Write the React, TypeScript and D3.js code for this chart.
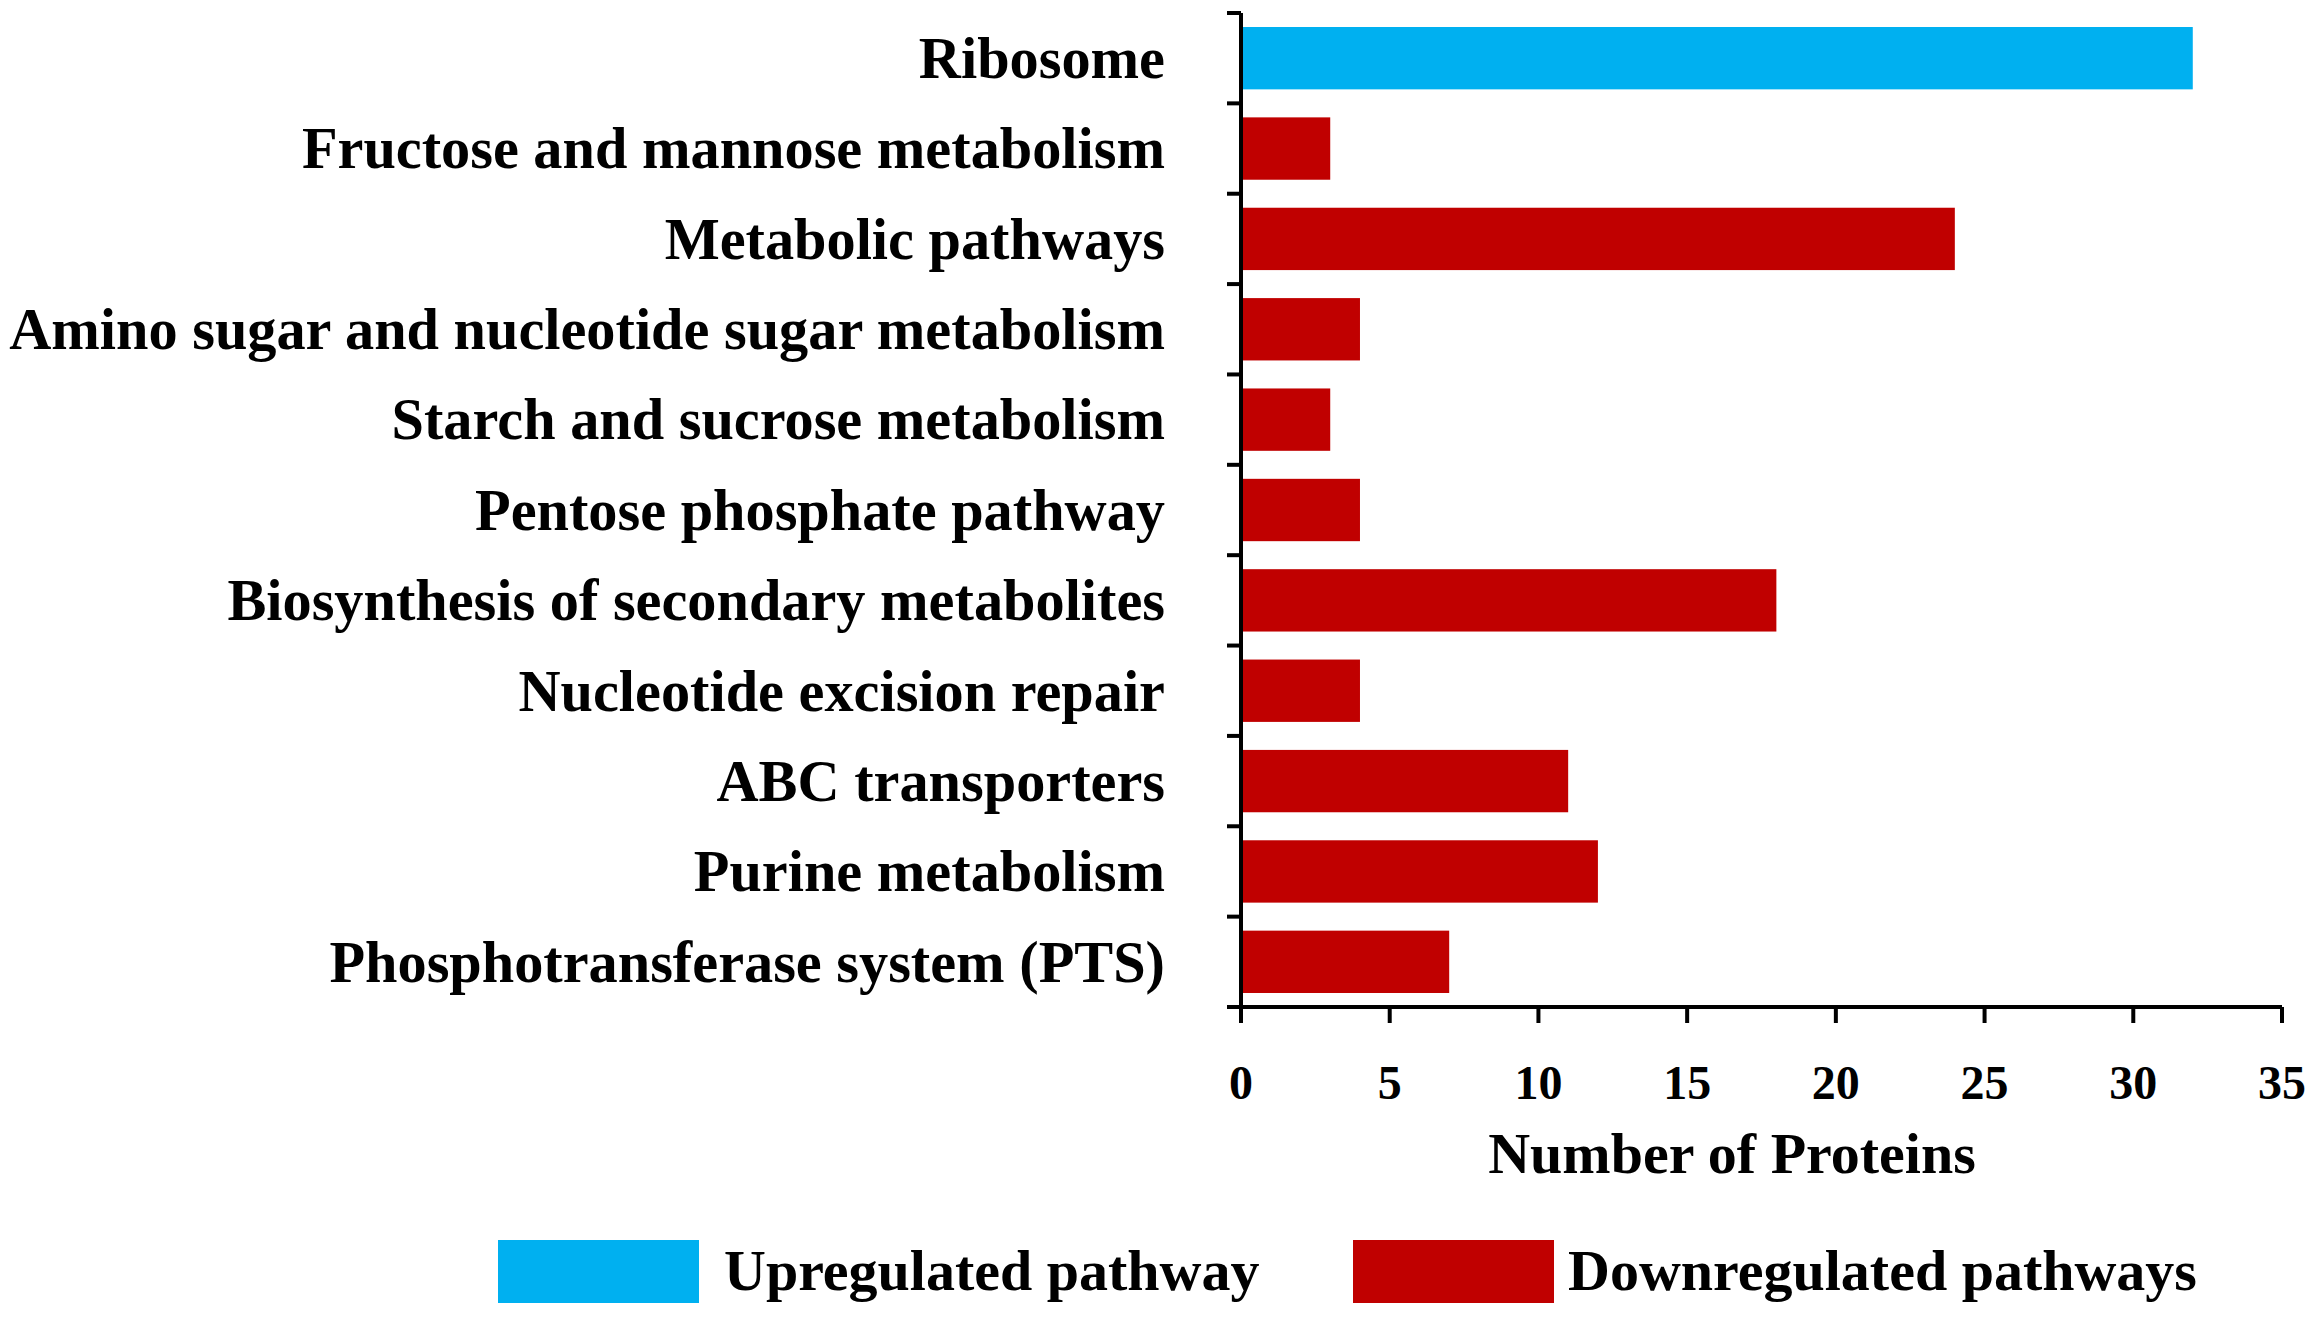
import React, { useEffect } from "react";
import * as d3 from "d3";

// KEGG pathways, top to bottom as shown
const pathways = [
  "Ribosome",
  "Fructose and mannose metabolism",
  "Metabolic pathways",
  "Amino sugar and nucleotide sugar metabolism",
  "Starch and sucrose metabolism",
  "Pentose phosphate pathway",
  "Biosynthesis of secondary metabolites",
  "Nucleotide excision repair",
  "ABC transporters",
  "Purine metabolism",
  "Phosphotransferase system (PTS)",
];

// number of proteins per pathway
const proteinCounts = [32, 3, 24, 4, 3, 4, 18, 4, 11, 12, 7];

// regulation group per pathway
const regulation = ["up", "down", "down", "down", "down", "down", "down", "down", "down", "down", "down"];

const groupKeys = ["up", "down"];
const groupLabels = ["Upregulated pathway", "Downregulated pathways"];

const xTicks = [0, 5, 10, 15, 20, 25, 30, 35];

const W = 2320;
const H = 1320;
const FONT = "'Liberation Serif', 'Times New Roman', Times, serif";

export default function App() {
  useEffect(() => {
    document.body.style.margin = "0";
  }, []);

  const x = d3.scaleLinear().domain([0, 35]).range([1241, 2282]);
  const y = d3.scaleBand<string>().domain(pathways).range([13, 1007]).paddingInner(0.31).paddingOuter(0.155);
  const color = d3.scaleOrdinal<string, string>().domain(groupKeys).range(["#00B0F0", "#C00000"]);

  const axisY = y.range()[1];
  const step = y.step();
  const boundaries = d3.range(pathways.length + 1).map((i) => y.range()[0] + i * step);

  // legend layout
  const legendBoxX = [498, 1353];
  const legendTextX = [724, 1568];

  return (
    <svg width={W} height={H} style={{ display: "block", background: "#fff" }} fontFamily={FONT} fontWeight="bold">
      {/* bars */}
      {pathways.map((p, i) => (
        <rect
          key={p}
          x={x(0)}
          y={y(p)}
          width={x(proteinCounts[i]) - x(0)}
          height={y.bandwidth()}
          fill={color(regulation[i])}
        />
      ))}

      {/* y axis */}
      <line x1={x(0)} x2={x(0)} y1={y.range()[0]} y2={axisY} stroke="#000" strokeWidth={4} />
      {boundaries.map((b, i) => (
        <line key={i} x1={x(0) - 14} x2={x(0)} y1={b} y2={b} stroke="#000" strokeWidth={4} />
      ))}

      {/* category labels */}
      {pathways.map((p) => (
        <text key={p} x={1165} y={(y(p) ?? 0) + y.bandwidth() / 2} dy="0.34em" textAnchor="end" fontSize={58.3} fill="#000">
          {p}
        </text>
      ))}

      {/* x axis */}
      <line x1={x(0) - 14} x2={x(35)} y1={axisY} y2={axisY} stroke="#000" strokeWidth={4} />
      {xTicks.map((t) => (
        <g key={t} transform={`translate(${x(t)},0)`}>
          <line y1={axisY} y2={axisY + 16} stroke="#000" strokeWidth={4} />
          <text y={1099} textAnchor="middle" fontSize={48} fill="#000">
            {t}
          </text>
        </g>
      ))}
      <text x={1732} y={1173} textAnchor="middle" fontSize={58} fill="#000">
        Number of Proteins
      </text>

      {/* legend */}
      {groupKeys.map((k, i) => (
        <g key={k}>
          <rect x={legendBoxX[i]} y={1240} width={201} height={63} fill={color(k)} />
          <text x={legendTextX[i]} y={1290} fontSize={58} fill="#000">
            {groupLabels[i]}
          </text>
        </g>
      ))}
    </svg>
  );
}
